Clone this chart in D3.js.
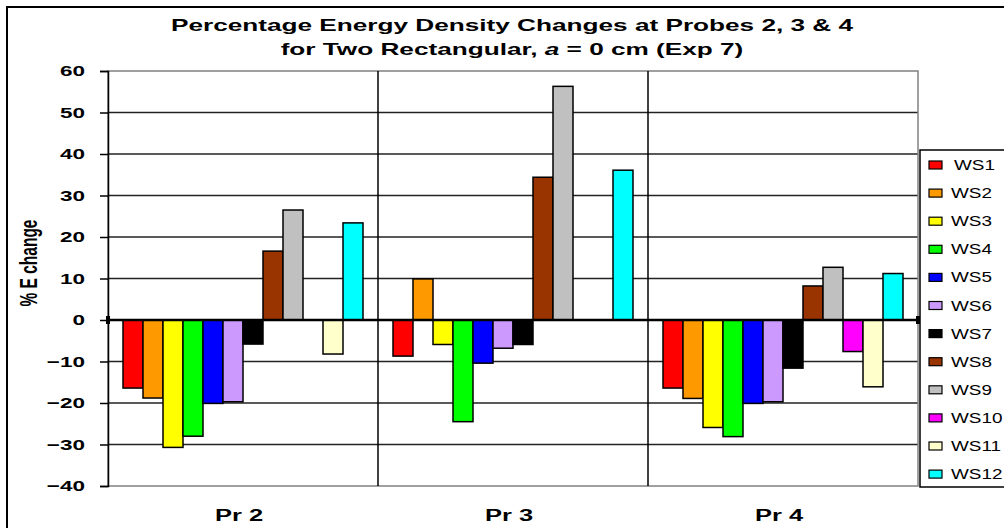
<!DOCTYPE html>
<html>
<head>
<meta charset="utf-8">
<script src="https://cdn.jsdelivr.net/npm/d3@7"></script>
<style>
  body { margin: 0; background: #fff; }
  svg { font-family: "Liberation Sans", Arial, sans-serif; }
</style>
</head>
<body>
<svg class="chart"></svg>
<script>
// chart values
var probes = ["Pr 2", "Pr 3", "Pr 4"];
var series = ["WS1", "WS2", "WS3", "WS4", "WS5", "WS6", "WS7", "WS8", "WS9", "WS10", "WS11", "WS12"];
var colours = ["#FF0000", "#FF9900", "#FFFF00", "#00FF00", "#0000FF", "#CC99FF",
               "#000000", "#993300", "#C0C0C0", "#FF00FF", "#FFFFCC", "#00FFFF"];
var pr2 = [-16.4, -18.8, -30.7, -28.0, -20.1, -19.7, -5.8, 16.6, 26.5, null, -8.2, 23.4];
var pr3 = [-8.7, 9.9, -5.9, -24.5, -10.4, -6.8, -5.9, 34.4, 56.3, null, null, 36.1];
var pr4 = [-16.4, -18.9, -25.9, -28.1, -20.1, -19.7, -11.6, 8.2, 12.7, -7.6, -16.1, 11.2];
var yTicks = [-40, -30, -20, -10, 0, 10, 20, 30, 40, 50, 60];

function show() {
    'use strict';

    var values = [pr2, pr3, pr4];
    var data = probes.map(function(p, i) {
        return {probe: p, bars: series.map(function(s, j) {
            return {key: s, value: values[i][j], colour: colours[j]};
        })};
    });

    // the original picture is stretched sideways, so is its text
    var stretch = 1.5;

    var margin = {top: 71, left: 108},
        width = 810,
        height = 415;

    var svg = d3.select(".chart")
        .attr("width", 1004)
        .attr("height", 528);

    // outer chart border
    svg.append("rect")
        .attr("x", 7).attr("y", 7)
        .attr("width", 1010).attr("height", 530)
        .attr("fill", "#fff")
        .attr("stroke", "#000")
        .attr("stroke-width", 2);

    // title
    var title = svg.append("g")
        .attr("transform", "translate(512,0) scale(1.54,1)")
        .append("text")
        .attr("text-anchor", "middle")
        .attr("font-weight", "bold")
        .attr("font-size", 17);
    title.append("tspan").attr("x", 0).attr("y", 31)
        .text("Percentage Energy Density Changes at Probes 2, 3 & 4");
    var t2 = title.append("tspan").attr("x", 0).attr("y", 55);
    t2.append("tspan").text("for Two Rectangular, ");
    t2.append("tspan").attr("font-style", "italic").text("a");
    t2.append("tspan").text(" = 0 cm (Exp 7)");

    var chart = svg.append("g")
        .attr("transform", "translate(" + margin.left + "," + margin.top + ")");

    var scaleX = d3.scaleBand().domain(probes).range([0, width]);
    var scaleX1 = d3.scaleBand().domain(series)
        .range([0, scaleX.bandwidth()])
        .paddingInner(0)
        .paddingOuter(0.75);
    var scaleY = d3.scaleLinear().domain([-40, 60]).range([height, 0]);

    // horizontal gridlines
    chart.append("g").selectAll("line")
        .data(yTicks.filter(function(d) { return d !== 0 && d !== 60 && d !== -40; }))
        .enter().append("line")
        .attr("x1", 0).attr("x2", width)
        .attr("y1", function(d) { return scaleY(d); })
        .attr("y2", function(d) { return scaleY(d); })
        .attr("stroke", "#222")
        .attr("stroke-width", 1.5);

    // plot area border
    chart.append("rect")
        .attr("width", width).attr("height", height)
        .attr("fill", "none")
        .attr("stroke", "#808080")
        .attr("stroke-width", 1.5);

    // category separators
    chart.append("g").selectAll("line")
        .data(probes.slice(1))
        .enter().append("line")
        .attr("x1", function(d) { return scaleX(d); })
        .attr("x2", function(d) { return scaleX(d); })
        .attr("y1", 0).attr("y2", height)
        .attr("stroke", "#000")
        .attr("stroke-width", 1.5);

    // bars
    chart.append("g").selectAll("g")
        .data(data)
        .enter().append("g")
        .attr("transform", function(d) { return "translate(" + scaleX(d.probe) + ",0)"; })
        .selectAll("rect")
        .data(function(d) { return d.bars.filter(function(b) { return b.value !== null; }); })
        .enter().append("rect")
        .attr("x", function(d) { return scaleX1(d.key); })
        .attr("y", function(d) { return scaleY(Math.max(0, d.value)); })
        .attr("width", scaleX1.bandwidth())
        .attr("height", function(d) { return Math.abs(scaleY(d.value) - scaleY(0)); })
        .attr("fill", function(d) { return d.colour; })
        .attr("stroke", "#000")
        .attr("stroke-width", 1.5);

    // zero line
    chart.append("line")
        .attr("x1", 0).attr("x2", width)
        .attr("y1", scaleY(0)).attr("y2", scaleY(0))
        .attr("stroke", "#000")
        .attr("stroke-width", 2.5);
    chart.append("g").selectAll("rect")
        .data([0, width])
        .enter().append("rect")
        .attr("x", function(d) { return d - 2; })
        .attr("y", scaleY(0) - 4)
        .attr("width", 4).attr("height", 8)
        .attr("fill", "#000");

    // left axis
    var leftAxis = d3.axisLeft(scaleY).tickValues(yTicks).tickSize(8).tickPadding(15);
    var yAxis = chart.append("g").call(leftAxis);
    yAxis.select(".domain").attr("stroke", "#000").attr("stroke-width", 1.5);
    yAxis.selectAll(".tick line").attr("stroke", "#000").attr("stroke-width", 1.5);
    yAxis.selectAll(".tick text")
        .attr("x", -23 / stretch)
        .attr("transform", "scale(" + stretch + ",1)")
        .attr("font-family", "Liberation Sans, Arial, sans-serif")
        .attr("font-size", 15)
        .attr("font-weight", "bold")
        .attr("fill", "#000");

    // bottom labels
    chart.append("g").selectAll("text")
        .data(probes)
        .enter().append("text")
        .attr("transform", function(d) {
            return "translate(" + (scaleX(d) + scaleX.bandwidth() / 2 - 4) + "," + (height + 35) + ") scale(" + stretch + ",1)";
        })
        .attr("text-anchor", "middle")
        .attr("font-size", 17)
        .attr("font-weight", "bold")
        .text(function(d) { return d; });

    // y axis title
    svg.append("text")
        .attr("transform", "translate(36.5,263) rotate(-90) scale(1," + stretch + ")")
        .attr("text-anchor", "middle")
        .attr("font-size", 15.5)
        .attr("font-weight", "bold")
        .text("% E change");

    // legend
    var legend = svg.append("g").attr("transform", "translate(920,150)");
    legend.append("rect")
        .attr("width", 100).attr("height", 337)
        .attr("fill", "#fff")
        .attr("stroke", "#000")
        .attr("stroke-width", 1.5);
    var item = legend.selectAll("g.item")
        .data(series)
        .enter().append("g")
        .attr("class", "item")
        .attr("transform", function(d, i) { return "translate(0," + (15 + i * 28.1) + ")"; });
    item.append("rect")
        .attr("x", 9).attr("y", -4)
        .attr("width", 13).attr("height", 8)
        .attr("fill", function(d, i) { return colours[i]; })
        .attr("stroke", "#000")
        .attr("stroke-width", 1.2);
    item.append("text")
        .attr("transform", function(d, i) { return "translate(" + (i === 0 ? 34 : 31) + ",5) scale(1.35,1)"; })
        .attr("font-size", 14)
        .text(function(d) { return d; });
}

show();
</script>
</body>
</html>
